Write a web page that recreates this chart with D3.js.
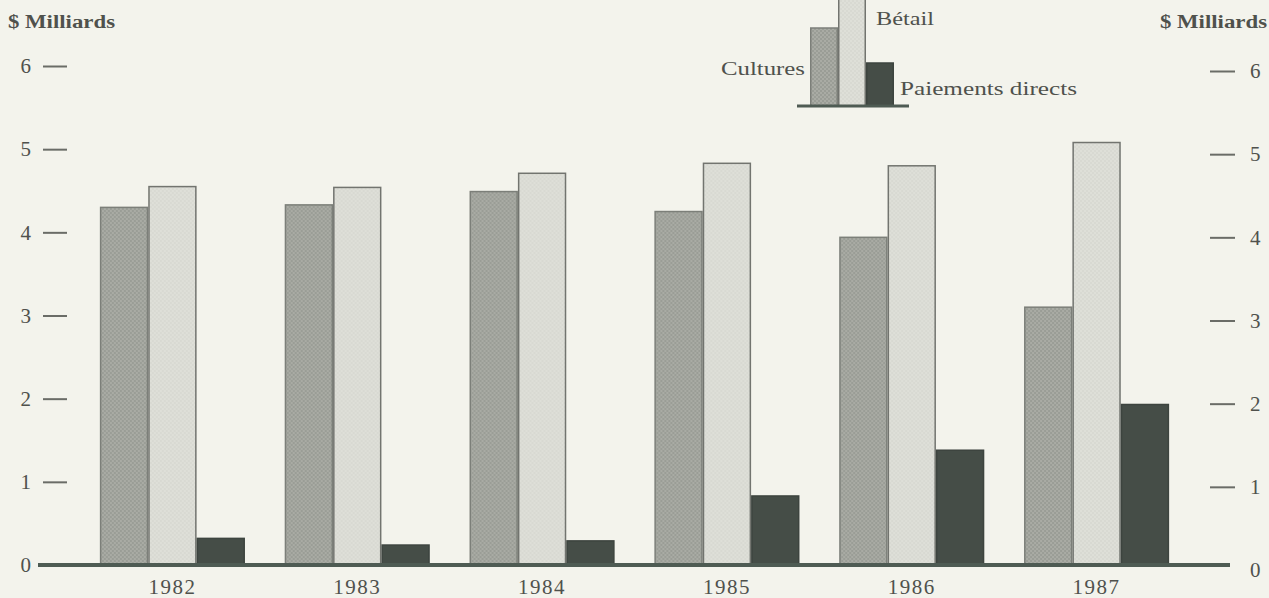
<!DOCTYPE html>
<html><head><meta charset="utf-8">
<script src="https://cdn.jsdelivr.net/npm/d3@7"></script>
<style>
html,body{margin:0;padding:0;background:#f3f3ec;}
svg{display:block;}
</style></head>
<body>
<script>
// ---- data ----
const years = ["1982","1983","1984","1985","1986","1987"];
const seriesNames = ["Cultures","Bétail","Paiements directs"];
const cultures = [4.30, 4.33, 4.49, 4.25, 3.94, 3.10];
const betail   = [4.55, 4.54, 4.71, 4.83, 4.80, 5.08];
const paiements= [0.32, 0.24, 0.29, 0.83, 1.38, 1.93];
const yTicks = [0,1,2,3,4,5,6];
const unitLabel = "$ Milliards";

const W = 1269, H = 598;
const svg = d3.select("body").append("svg").attr("width",W).attr("height",H);
svg.append("rect").attr("width",W).attr("height",H).attr("fill","#f3f3ec");

const defs = svg.append("defs");
function dotPattern(id, base, dot, r){
  const p = defs.append("pattern").attr("id",id).attr("width",4).attr("height",4)
    .attr("patternUnits","userSpaceOnUse");
  p.append("rect").attr("width",4).attr("height",4).attr("fill",base);
  p.append("circle").attr("cx",1).attr("cy",1).attr("r",r).attr("fill",dot);
  p.append("circle").attr("cx",3).attr("cy",3).attr("r",r).attr("fill",dot);
}
dotPattern("patC","#9a9d96","#bcbeb7",0.8);
dotPattern("patB","#dedfd8","#cdcec7",0.7);

const fills = {"Cultures":"url(#patC)","Bétail":"url(#patB)","Paiements directs":"#454d47"};
const strokes = {"Cultures":"#7c7f79","Bétail":"#72746f","Paiements directs":"#3d443f"};

const y  = d3.scaleLinear().domain([0,6]).range([565,66]);
const yR = d3.scaleLinear().domain([0,6]).range([570,71]);
const x0 = d3.scaleBand().domain(years).range([80,1189]).paddingInner(0.215).paddingOuter(0.1075);
const x1 = d3.scaleBand().domain(seriesNames).range([0,x0.bandwidth()]).padding(0);

const rows = years.map((yr,i)=>({year:yr, vals:[
  {s:"Cultures",v:cultures[i]},{s:"Bétail",v:betail[i]},{s:"Paiements directs",v:paiements[i]}]}));

const font = "'Liberation Serif', 'DejaVu Serif', serif";
const txt = "#4f514c";

// bars
const g = svg.append("g");
g.selectAll("g.grp").data(rows).join("g").attr("class","grp")
  .attr("transform",d=>`translate(${x0(d.year)},0)`)
  .selectAll("rect").data(d=>d.vals).join("rect")
  .attr("x",d=>x1(d.s)+0.75).attr("width",x1.bandwidth()-1.5)
  .attr("y",d=>y(d.v)).attr("height",d=>y(0)-y(d.v))
  .attr("fill",d=>fills[d.s]).attr("stroke",d=>strokes[d.s]).attr("stroke-width",1.5);

// baseline
svg.append("line").attr("x1",38).attr("x2",1230).attr("y1",y(0)).attr("y2",y(0))
  .attr("stroke","#4e5b53").attr("stroke-width",4);

// left axis
const axL = svg.append("g").attr("transform","translate(67,0)")
  .call(d3.axisLeft(y).tickValues(yTicks).tickSize(24).tickPadding(12).tickFormat(d3.format("d")));
axL.select(".domain").remove();
axL.selectAll(".tick line").attr("stroke","#6a6c67").attr("stroke-width",2)
  .filter(d=>d===0).remove();
axL.selectAll(".tick text").attr("font-family",font).attr("font-size",21).attr("fill",txt);

// right axis
const axR = svg.append("g").attr("transform","translate(1210,0)")
  .call(d3.axisRight(yR).tickValues(yTicks).tickSize(25).tickPadding(15).tickFormat(d3.format("d")));
axR.select(".domain").remove();
axR.selectAll(".tick line").attr("stroke","#6a6c67").attr("stroke-width",2)
  .filter(d=>d===0).remove();
axR.selectAll(".tick text").attr("font-family",font).attr("font-size",21).attr("fill",txt);

// year labels
svg.append("g").selectAll("text").data(years).join("text")
  .attr("x",d=>x0(d)+x0.bandwidth()/2).attr("y",594)
  .attr("text-anchor","middle").attr("font-family",font).attr("font-size",21)
  .attr("letter-spacing",1.5).attr("fill",txt).text(d=>d);

// unit labels
svg.append("text").attr("x",8).attr("y",28).attr("font-family",font).attr("font-weight","bold")
  .attr("font-size",18).attr("fill",txt).attr("textLength",107).attr("lengthAdjust","spacingAndGlyphs").text(unitLabel);
svg.append("text").attr("x",1160).attr("y",28).attr("font-family",font).attr("font-weight","bold")
  .attr("font-size",18).attr("fill",txt).attr("textLength",107).attr("lengthAdjust","spacingAndGlyphs").text(unitLabel);

// legend (mini bar chart)
const legendHeights = [78, 107, 43]; // glyph heights in px (decorative)
const lx = d3.scaleBand().domain(seriesNames).range([810,894]).padding(0);
const lg = svg.append("g");
lg.selectAll("rect").data(seriesNames).join("rect")
  .attr("x",d=>lx(d)+0.75).attr("width",lx.bandwidth()-1.5)
  .attr("y",(d,i)=>106-legendHeights[i]).attr("height",(d,i)=>legendHeights[i])
  .attr("fill",d=>fills[d]).attr("stroke",d=>strokes[d]).attr("stroke-width",1.5);
lg.append("line").attr("x1",797).attr("x2",909).attr("y1",106).attr("y2",106)
  .attr("stroke","#4e5b53").attr("stroke-width",3);
const legendText = [
  {t:"Cultures", x:721, y:75, len:84},
  {t:"Bétail", x:876, y:25, len:58},
  {t:"Paiements directs", x:900, y:95, len:177}
];
lg.selectAll("text").data(legendText).join("text")
  .attr("x",d=>d.x).attr("y",d=>d.y).attr("font-family",font).attr("font-size",19)
  .attr("fill",txt).attr("textLength",d=>d.len).attr("lengthAdjust","spacingAndGlyphs").text(d=>d.t);
</script>
</body></html>
